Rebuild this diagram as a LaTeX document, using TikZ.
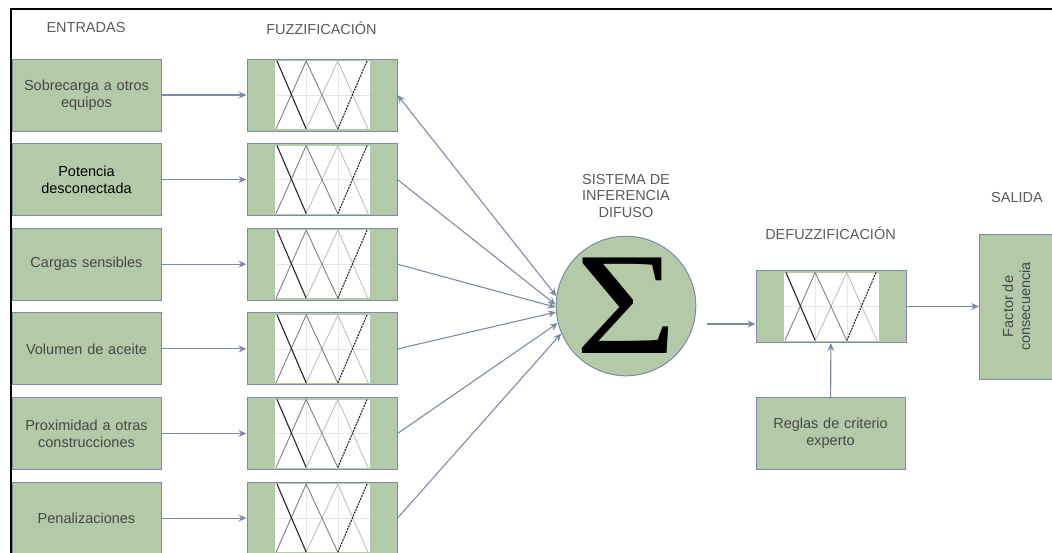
\documentclass[tikz,border=0pt]{standalone}
\usepackage{fontspec}
\setmainfont{Liberation Sans}
\newfontfamily\sigmafont{Liberation Serif}
\usetikzlibrary{positioning,arrows.meta}
\definecolor{verde}{HTML}{B3C9A8}
\definecolor{pizarra}{HTML}{7D8CA6}
\definecolor{texto}{HTML}{474747}
\definecolor{titulo}{HTML}{5A5A5A}
% funciones de pertenencia dibujadas sobre una caja
\def\pertenencia#1{%
	\begin{scope}[shift={(#1.center)}]
		\fill[white] (-47.5pt,-34pt) rectangle (47.5pt,34pt);
		\draw[black!10, line width=0.6pt] (-15.8pt,-34pt) -- (-15.8pt,34pt) (15.8pt,-34pt) -- (15.8pt,34pt) (-47.5pt,0pt) -- (47.5pt,0pt);
		\draw[black!25, line width=0.9pt] (-15.8pt,-34pt) -- (15.8pt,34pt) -- (46pt,-34pt);
		\draw[black!50, line width=0.9pt] (-46pt,-34pt) -- (-15.8pt,34pt) -- (15.8pt,-34pt);
		\draw[black!85, line width=1.1pt] (-45pt,34pt) -- (-15.8pt,-34pt);
		\draw[black!85, line width=1.1pt, dash pattern=on 2pt off 1pt] (15.8pt,-34pt) -- (45pt,34pt);
	\end{scope}}

\begin{document}
\begin{tikzpicture}[>={Stealth[width=7pt,length=8pt]},
	caja/.style={draw=pizarra, fill=verde, line width=1pt, text=texto, align=center, inner sep=2pt, font=\fontsize{14.5}{17}\selectfont},
	entrada/.style={caja, minimum width=149pt, minimum height=72pt, text width=140pt},
	fuzzy/.style={caja, minimum width=150pt, minimum height=72pt},
	encabezado/.style={text=titulo, align=center, font=\fontsize{14.5}{16.5}\selectfont},
	flecha/.style={->, pizarra, line width=1.1pt}]
	\useasboundingbox (0pt,0pt) rectangle (1052pt,-552pt);
	\draw[line width=2pt] (11pt,-553pt) -- (11pt,-9pt) -- (1053pt,-9pt);
	% encabezados
	\draw (86pt,-28pt)node[encabezado](tent){ENTRADAS};
	\draw (321.5pt,-28pt)node[encabezado](tfuz){FUZZIFICACIÓN};
	\draw (626pt,-196pt)node[encabezado](tsis){SISTEMA DE\\INFERENCIA\\DIFUSO};
	\draw (830.5pt,-233pt)node[encabezado](tdfz){DEFUZZIFICACIÓN};
	\draw (1017pt,-198pt)node[encabezado](tsal){SALIDA};
	% entradas
	\draw (86.5pt,-95pt)node[entrada](e1){Sobrecarga a otros\\equipos};
	\draw (86.5pt,-179.6pt)node[entrada, text=black](e2){Potencia\\desconectada};
	\draw (86.5pt,-264.2pt)node[entrada](e3){Cargas sensibles};
	\draw (86.5pt,-348.9pt)node[entrada](e4){Volumen de aceite};
	\draw (86.5pt,-433.5pt)node[entrada](e5){Proximidad a otras\\construcciones};
	\draw (86.5pt,-518.1pt)node[entrada](e6){Penalizaciones};
	% fuzzificacion
	\draw (322pt,-95pt)node[fuzzy](f1){};
	\draw (322pt,-179.6pt)node[fuzzy](f2){};
	\draw (322pt,-264.2pt)node[fuzzy](f3){};
	\draw (322pt,-348.9pt)node[fuzzy](f4){};
	\draw (322pt,-433.5pt)node[fuzzy](f5){};
	\draw (322pt,-518.1pt)node[fuzzy](f6){};
	\pertenencia{f1}\pertenencia{f2}\pertenencia{f3}
	\pertenencia{f4}\pertenencia{f5}\pertenencia{f6}
	% inferencia y salida
	\draw (626pt,-306pt)node[caja, circle, minimum size=132pt, inner sep=0pt, text=black, font=\sigmafont\fontsize{146}{146}\selectfont](sis){\scalebox{1.2}[1]{Σ}};
	\draw (831pt,-306.5pt)node[fuzzy](dfz){};
	\pertenencia{dfz}
	\draw (830.5pt,-433.5pt)node[entrada](reg){Reglas de criterio\\experto};
	\draw (1016.5pt,-306.5pt)node[caja, rotate=90, minimum width=145pt, minimum height=74pt](sal){Factor de\\consecuencia};
	\coordinate (sisout) at ([xshift=11pt,yshift=-18pt]sis.east);
	% conexiones
	\path[flecha] (e1) edge (f1);
	\path[flecha] (e2) edge (f2);
	\path[flecha] (e3) edge (f3);
	\path[flecha] (e4) edge (f4);
	\path[flecha] (e5) edge (f5);
	\path[flecha] (e6) edge (f6);
	\path[flecha, <->] (f1.east) edge (sis.172);
	\path[flecha] (f2.east) edge (sis.179);
	\path[flecha] (f3.east) edge (sis.181);
	\path[flecha] (f4.east) edge (sis.185);
	\path[flecha] (f5.east) edge (sis.194);
	\path[flecha] (f6.east) edge (sis.203);
	\path[flecha] (sisout) edge (sisout -| dfz.west);
	\path[flecha] (reg) edge (dfz);
	\path[flecha] (dfz) edge (sal);
\end{tikzpicture}
\end{document}
